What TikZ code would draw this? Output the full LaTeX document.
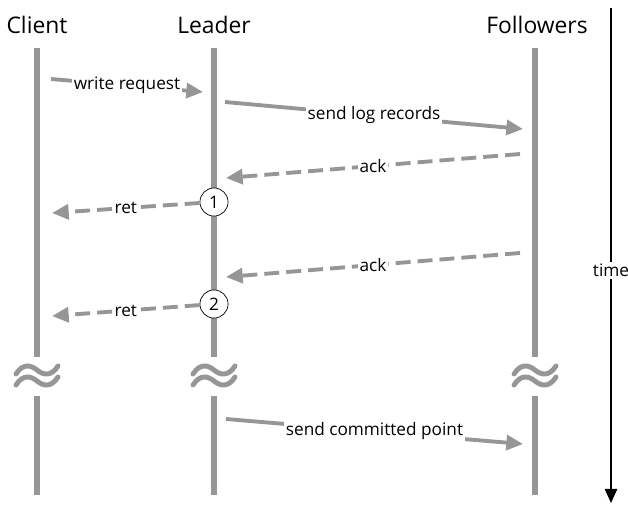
\documentclass[tikz,border=0pt]{standalone}
\usepackage{fontspec}
\setmainfont{Open Sans}
\usetikzlibrary{arrows.meta,positioning}
\definecolor{LineGray}{RGB}{150,150,150}

\begin{document}
\begin{tikzpicture}[x=0.02cm,y=-0.02cm,
    head/.style={font=\fontsize{13}{15}\selectfont},
    lifeline/.style={draw=LineGray,line width=3.4pt},
    msg/.style={-{Triangle[length=9.5pt,width=8.5pt]},draw=LineGray,line width=2.2pt},
    reply/.style={msg,dash pattern=on 8.5pt off 4pt},
    lbl/.style={fill=white,inner sep=1pt,text=black,font=\fontsize{9.8}{11}\selectfont},
    commit/.style={circle,draw,thin,fill=white,minimum size=16pt,inner sep=0pt,
                   font=\fontsize{9.8}{11}\selectfont},
    gap/.style={draw=LineGray,line width=2.8pt,line cap=round}
  ]
  \useasboundingbox (0,0) rectangle (628,504);

  % participants
  \node[head] (client) at (37,25) {Client};
  \node[head] (leader) at (214,25) {Leader};
  \node[head] (followers) at (537,25) {Followers};

  % lifelines, broken by the gap marks
  \foreach \x in {37,214,535} {
    \draw[lifeline] (\x,48) -- (\x,357);
    \draw[lifeline] (\x,396) -- (\x,495);
    \draw[gap] (\x-21,374) .. controls (\x-14,363) and (\x-6,365) .. (\x,370)
                           .. controls (\x+6,375) and (\x+14,377) .. (\x+21,366);
    \draw[gap] (\x-21,385) .. controls (\x-14,374) and (\x-6,376) .. (\x,381)
                           .. controls (\x+6,386) and (\x+14,388) .. (\x+21,377);
  }

  % commit points on the leader
  \node[commit] (cp1) at (214,202) {1};
  \node[commit] (cp2) at (214,304) {2};

  % message ends
  \coordinate (wr1) at (51,79);   \coordinate (wr2) at (203,92);
  \coordinate (log1) at (225,102); \coordinate (log2) at (523,129);
  \coordinate (ack1a) at (520,154); \coordinate (ack1b) at (226,178);
  \coordinate (ret1) at (52,213);
  \coordinate (ack2a) at (520,253); \coordinate (ack2b) at (226,277);
  \coordinate (ret2) at (52,316);
  \coordinate (cm1) at (226,419);  \coordinate (cm2) at (523,444);

  \draw[msg] (wr1) -- (wr2) node[midway,lbl] {write request};
  \draw[msg] (log1) -- (log2) node[midway,lbl] {send log records};
  \draw[reply] (ack1a) -- (ack1b) node[midway,lbl] {ack};
  \draw[reply] (cp1) -- (ret1) node[midway,lbl] {ret};
  \draw[reply] (ack2a) -- (ack2b) node[midway,lbl] {ack};
  \draw[reply] (cp2) -- (ret2) node[midway,lbl] {ret};
  \draw[msg] (cm1) -- (cm2) node[midway,lbl] {send committed point};

  % time axis
  \coordinate (t0) at (611,8);
  \coordinate (t1) at (611,503);
  \draw[-{Triangle[length=8pt,width=7pt]},line width=0.9pt] (t0) -- (t1)
    node[pos=0.53,lbl] {time};
\end{tikzpicture}
\end{document}
